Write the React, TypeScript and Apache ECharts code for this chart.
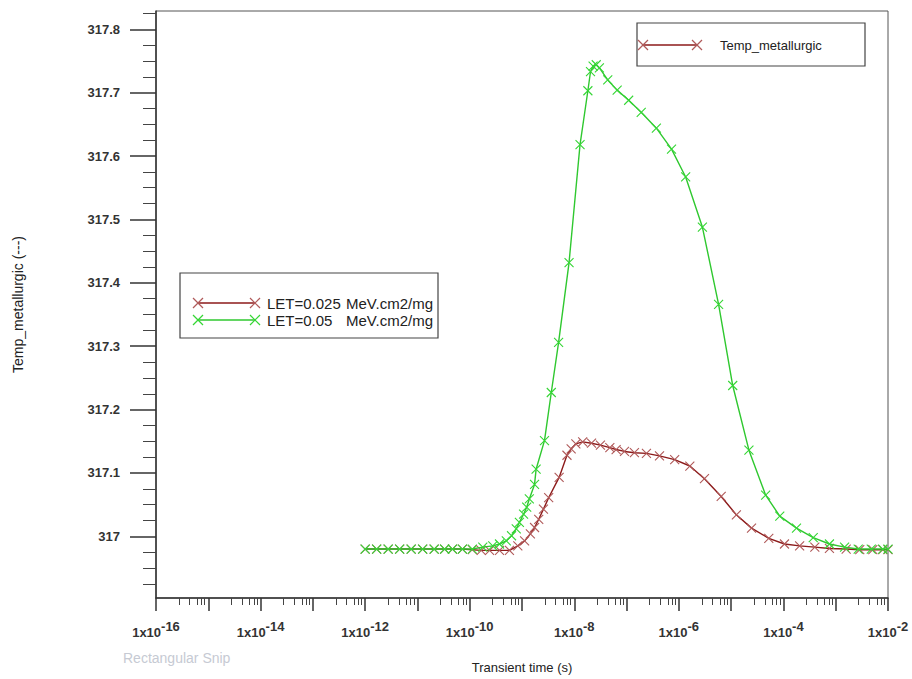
import React, { useEffect, useRef } from "react";
import * as echarts from "echarts";

// ---- data (x = log10 of transient time in s, y = Temp_metallurgic) ----
const redLogTime = [
  -12, -11.78, -11.56, -11.34, -11.12, -10.9, -10.68, -10.48, -10.33, -10.14,
  -9.95, -9.78, -9.62, -9.43, -9.24, -9.08, -8.95, -8.84, -8.76, -8.68, -8.59,
  -8.49, -8.29, -8.14, -8.06, -7.97, -7.84, -7.67, -7.5, -7.32, -7.2, -7.04,
  -6.85, -6.62, -6.37, -6.08, -5.79, -5.51, -5.19, -4.9, -4.61, -4.28, -3.98,
  -3.69, -3.4, -3.12, -2.8, -2.54, -2.29, -2.1, -2.0,
];
const redTemp = [
  316.98, 316.98, 316.98, 316.98, 316.98, 316.98, 316.98, 316.98, 316.98, 316.98,
  316.979, 316.978, 316.978, 316.978, 316.978, 316.985, 316.993, 317.004, 317.014, 317.027, 317.043,
  317.061, 317.093, 317.128, 317.138, 317.146, 317.149, 317.147, 317.144, 317.14, 317.137, 317.134,
  317.132, 317.131, 317.127, 317.121, 317.111, 317.091, 317.063, 317.034, 317.013, 316.997, 316.988,
  316.985, 316.983, 316.981, 316.98, 316.979, 316.979, 316.979, 316.979,
];
const greenLogTime = [
  -12, -11.78, -11.56, -11.34, -11.12, -10.9, -10.68, -10.48, -10.33, -10.14,
  -9.95, -9.75, -9.56, -9.43, -9.3, -9.2, -9.11, -9.05, -8.97, -8.91, -8.86,
  -8.76, -8.73, -8.57, -8.44, -8.3, -8.1, -7.89, -7.74, -7.69, -7.64, -7.58,
  -7.52, -7.36, -7.18, -6.96, -6.72, -6.43, -6.14, -5.87, -5.55, -5.24, -4.97,
  -4.66, -4.34, -4.07, -3.75, -3.43, -3.12, -2.83, -2.57, -2.32, -2.1, -2.0,
];
const greenTemp = [
  316.98, 316.98, 316.98, 316.98, 316.98, 316.98, 316.98, 316.98, 316.98, 316.98,
  316.98, 316.983, 316.985, 316.988, 316.993, 317.001, 317.012, 317.022, 317.035, 317.046, 317.059,
  317.082, 317.106, 317.151, 317.227, 317.306, 317.432, 317.618, 317.703, 317.733, 317.742, 317.744,
  317.739, 317.72, 317.704, 317.688, 317.669, 317.644, 317.611, 317.567, 317.488, 317.366, 317.238,
  317.136, 317.065, 317.032, 317.013, 316.998, 316.988, 316.983, 316.98, 316.98, 316.98, 316.98,
];

const seriesNames = ["LET=0.025 MeV.cm2/mg", "LET=0.05  MeV.cm2/mg"];
const legendLETs = ["LET=0.025", "LET=0.05"];
const legendUnit = "MeV.cm2/mg";
const topLegendLabel = "Temp_metallurgic";

const xMajorTicks = [-16, -15, -14, -13, -12, -11, -10, -9, -8, -7, -6, -5, -4, -3, -2];
const xLabelTicks = [-16, -14, -12, -10, -8, -6, -4, -2];
const xMinorFractions = [0.44, 0.645, 0.79, 0.87, 0.93];
const yTickValues = [317, 317.1, 317.2, 317.3, 317.4, 317.5, 317.6, 317.7, 317.8];

const X_MIN = -16;
const X_MAX = -2;
const Y_MIN = 316.9028;
const Y_MAX = 317.8288;

const RED_LINE = "#8c1a1a";
const RED_MARK = "#b05a5a";
const GREEN_LINE = "#2fc82f";
const GREEN_MARK = "#35d635";
const FONT = '"Liberation Sans", Arial, sans-serif';

const xMinorTicks: number[] = [];
for (let d = X_MIN; d < X_MAX; d++) {
  for (const f of xMinorFractions) xMinorTicks.push(d + f);
}
const yMinorTicks: number[] = [];
for (let i = 1; i <= 37; i++) {
  if (i % 4 !== 0) yMinorTicks.push(Math.round((316.9 + 0.025 * i) * 1000) / 1000);
}

const X_SYMBOL = "path://M0,0L10,10M10,0L0,10";

function xMarker(cx: number, cy: number, color: string, r = 5) {
  return [
    { type: "line", shape: { x1: cx - r, y1: cy - r, x2: cx + r, y2: cy + r }, style: { stroke: color, lineWidth: 1.2 }, z: 101 },
    { type: "line", shape: { x1: cx - r, y1: cy + r, x2: cx + r, y2: cy - r }, style: { stroke: color, lineWidth: 1.2 }, z: 101 },
  ];
}

function buildOption() {
  const red = redLogTime.map((x, i) => [x, redTemp[i]]);
  const green = greenLogTime.map((x, i) => [x, greenTemp[i]]);

  const graphics: any[] = [
    // top-right legend
    { type: "rect", shape: { x: 637, y: 23, width: 228, height: 43 }, style: { fill: "#fff", stroke: "#444", lineWidth: 1.2 }, z: 100 },
    { type: "line", shape: { x1: 643, y1: 45, x2: 697, y2: 45 }, style: { stroke: RED_LINE, lineWidth: 1.3 }, z: 101 },
    ...xMarker(643, 45, RED_MARK),
    ...xMarker(697, 45, RED_MARK),
    { type: "text", x: 720, y: 45, style: { text: topLegendLabel, fill: "#222", font: `13px ${FONT}`, align: "left", verticalAlign: "middle" }, z: 101 },
    // middle-left legend
    { type: "rect", shape: { x: 180, y: 273, width: 258, height: 65 }, style: { fill: "#fff", stroke: "#444", lineWidth: 1.2 }, z: 100 },
    { type: "line", shape: { x1: 198, y1: 303, x2: 255, y2: 303 }, style: { stroke: RED_LINE, lineWidth: 1.3 }, z: 101 },
    ...xMarker(198, 303, RED_MARK),
    ...xMarker(255, 303, RED_MARK),
    { type: "line", shape: { x1: 198, y1: 320, x2: 255, y2: 320 }, style: { stroke: GREEN_LINE, lineWidth: 1.3 }, z: 101 },
    ...xMarker(198, 320, GREEN_MARK),
    ...xMarker(255, 320, GREEN_MARK),
    { type: "text", x: 267, y: 303, style: { text: legendLETs[0], fill: "#222", font: `15px ${FONT}`, align: "left", verticalAlign: "middle" }, z: 101 },
    { type: "text", x: 433, y: 303, style: { text: legendUnit, fill: "#222", font: `15px ${FONT}`, align: "right", verticalAlign: "middle" }, z: 101 },
    { type: "text", x: 267, y: 320, style: { text: legendLETs[1], fill: "#222", font: `15px ${FONT}`, align: "left", verticalAlign: "middle" }, z: 101 },
    { type: "text", x: 433, y: 320, style: { text: legendUnit, fill: "#222", font: `15px ${FONT}`, align: "right", verticalAlign: "middle" }, z: 101 },
    // faint screenshot artefact
    { type: "text", x: 123, y: 658, style: { text: "Rectangular Snip", fill: "#c6cad3", font: `14px ${FONT}`, align: "left", verticalAlign: "middle" }, z: 1 },
  ];

  return {
    animation: false,
    backgroundColor: "#fff",
    grid: { left: 156, right: 24, top: 11, bottom: 80, show: true, borderColor: "#555", borderWidth: 1, backgroundColor: "transparent" },
    xAxis: [
      {
        type: "value",
        min: X_MIN,
        max: X_MAX,
        position: "bottom",
        name: "Transient time (s)",
        nameLocation: "middle",
        nameGap: 63,
        nameTextStyle: { fontSize: 13, color: "#222", fontFamily: FONT, verticalAlign: "top" },
        axisLine: { show: true, onZero: false, lineStyle: { color: "#333", width: 1.5 } },
        axisTick: { show: true, customValues: xMajorTicks, length: 13, lineStyle: { color: "#333", width: 1.5 } },
        axisLabel: {
          customValues: xLabelTicks,
          margin: 22,
          formatter: (v: number) => `{a|1x10}{b|${Math.round(v)}}`,
          rich: {
            a: { fontSize: 13, fontWeight: "bold", color: "#333", fontFamily: FONT, lineHeight: 19, verticalAlign: "bottom" },
            b: { fontSize: 13, fontWeight: "bold", color: "#333", fontFamily: FONT, lineHeight: 13, verticalAlign: "top" },
          },
        },
        splitLine: { show: false },
      },
      {
        type: "value",
        min: X_MIN,
        max: X_MAX,
        position: "bottom",
        axisLine: { show: false, onZero: false },
        axisTick: { show: true, customValues: xMinorTicks, length: 7, lineStyle: { color: "#444", width: 1 } },
        axisLabel: { show: false },
        splitLine: { show: false },
      },
    ],
    yAxis: [
      {
        type: "value",
        min: Y_MIN,
        max: Y_MAX,
        position: "left",
        name: "Temp_metallurgic (---)",
        nameLocation: "middle",
        nameGap: 131,
        nameRotate: 90,
        nameTextStyle: { fontSize: 14, color: "#222", fontFamily: FONT },
        axisLine: { show: true, onZero: false, lineStyle: { color: "#333", width: 1.5 } },
        axisTick: { show: true, customValues: yTickValues, length: 26, lineStyle: { color: "#333", width: 1.5 } },
        axisLabel: {
          customValues: yTickValues,
          margin: 36,
          fontSize: 13,
          fontWeight: "bold",
          color: "#333",
          fontFamily: FONT,
          formatter: (v: number) => String(Math.round(v * 10) / 10),
        },
        splitLine: { show: false },
      },
      {
        type: "value",
        min: Y_MIN,
        max: Y_MAX,
        position: "left",
        axisLine: { show: false, onZero: false },
        axisTick: { show: true, customValues: yMinorTicks, length: 13, lineStyle: { color: "#444", width: 1 } },
        axisLabel: { show: false },
        splitLine: { show: false },
      },
    ],
    series: [
      {
        name: seriesNames[0],
        type: "line",
        xAxisIndex: 0,
        yAxisIndex: 0,
        data: red,
        symbol: X_SYMBOL,
        symbolSize: 9,
        showAllSymbol: true,
        lineStyle: { color: RED_LINE, width: 1.4 },
        itemStyle: { color: RED_MARK, borderColor: RED_MARK, borderWidth: 1.1 },
        z: 2,
      },
      {
        name: seriesNames[1],
        type: "line",
        xAxisIndex: 0,
        yAxisIndex: 0,
        data: green,
        symbol: X_SYMBOL,
        symbolSize: 9,
        showAllSymbol: true,
        lineStyle: { color: GREEN_LINE, width: 1.4 },
        itemStyle: { color: GREEN_MARK, borderColor: GREEN_MARK, borderWidth: 1.1 },
        z: 3,
      },
    ],
    graphic: graphics,
  };
}

export default function App() {
  const ref = useRef<HTMLDivElement>(null);
  useEffect(() => {
    if (!ref.current) return;
    const chart = echarts.init(ref.current, null, { renderer: "svg" });
    chart.setOption(buildOption() as any);
    return () => chart.dispose();
  }, []);
  return (
    <div
      ref={ref}
      style={{ position: "absolute", left: 0, top: 0, width: 912, height: 679, background: "#fff" }}
    />
  );
}
